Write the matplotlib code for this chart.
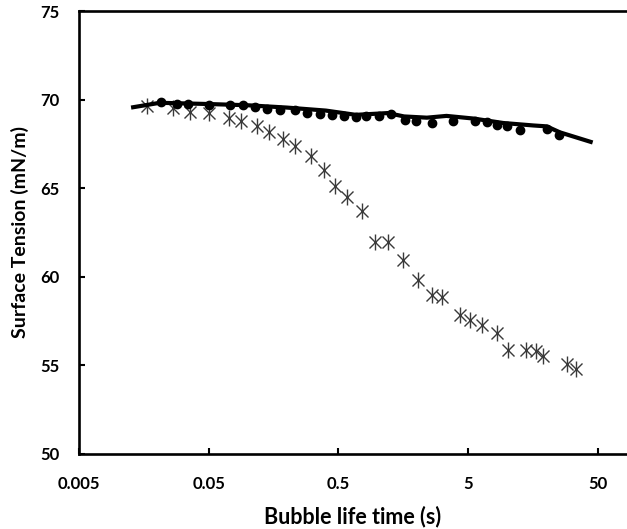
import matplotlib
matplotlib.use("Agg")
import matplotlib.pyplot as plt

# measured surface tension, water-like (filled dots)
dots_t = [0.0213, 0.0286, 0.0348, 0.0502, 0.0729, 0.0914, 0.1136, 0.140, 0.177,
          0.231, 0.284, 0.360, 0.443, 0.551, 0.679, 0.815, 1.026, 1.262, 1.63,
          1.97, 2.64, 3.84, 5.64, 6.94, 8.28, 9.89, 12.53, 20.1, 25.2]
dots_st = [69.89, 69.75, 69.76, 69.67, 69.67, 69.67, 69.58, 69.48, 69.39,
           69.43, 69.27, 69.18, 69.14, 69.10, 68.99, 69.10, 69.05, 69.20, 68.86,
           68.77, 68.68, 68.81, 68.81, 68.71, 68.54, 68.49, 68.30, 68.36, 67.98]

# fitted curve (thick line)
fit_t = [0.0126, 0.021, 0.05, 0.1, 0.2, 0.4, 0.68, 1.2, 1.6, 2.4, 3.4, 5.5,
         9.3, 15.9, 20.1, 25.5, 45.5]
fit_st = [69.55, 69.82, 69.75, 69.68, 69.55, 69.38, 69.14, 69.24, 69.05, 68.98,
          69.08, 68.93, 68.68, 68.54, 68.49, 68.15, 67.58]

# surfactant solution (asterisks)
star_t = [0.0168, 0.0264, 0.0358, 0.0502, 0.0720, 0.0887, 0.117, 0.146, 0.186,
          0.231, 0.305, 0.386, 0.470, 0.578, 0.755, 0.955, 1.21, 1.563, 2.04,
          2.64, 3.15, 4.32, 5.15, 6.35, 8.28, 10.18, 13.87, 16.56, 18.74, 28.7, 33.8]
star_st = [69.65, 69.52, 69.30, 69.24, 68.96, 68.77, 68.49, 68.17, 67.78,
           67.36, 66.80, 66.00, 65.15, 64.51, 63.70, 61.95, 61.95, 60.92, 59.80,
           58.97, 58.86, 57.84, 57.56, 57.26, 56.85, 55.87, 55.87, 55.82, 55.54, 55.07, 54.82]

xticks = [0.005, 0.05, 0.5, 5, 50]
xticklabels = ["0.005", "0.05", "0.5", "5", "50"]
yticks = [50, 55, 60, 65, 70, 75]

plt.rcParams['font.family'] = ['Lato', 'DejaVu Sans']

fig = plt.figure(figsize=(6.27, 5.29), dpi=100)
ax = fig.add_axes([79 / 627, 1 - 454 / 529, 1 - 79 / 627, (454 - 11) / 529])

ax.plot(star_t, star_st, ls='none', marker='x', ms=9, mew=1.0, color='#3a3a3a')
ax.plot(star_t, star_st, ls='none', marker='|', ms=11, mew=1.0, color='#3a3a3a')
ax.plot(dots_t, dots_st, ls='none', marker='o', ms=6, color='black')
ax.plot(fit_t, fit_st, color='black', lw=3, solid_capstyle='butt')

ax.set_xscale('log')
ax.set_xlim(0.005, 83.7)
ax.set_ylim(50, 75)
ax.set_xticks(xticks)
ax.set_xticklabels(xticklabels)
ax.set_yticks(yticks)
ax.minorticks_off()

for s in ['left', 'bottom', 'top']:
    ax.spines[s].set_linewidth(1.9)
ax.spines['right'].set_visible(False)

ax.tick_params(axis='both', direction='in', length=4, width=1.5, labelsize=12)
ax.tick_params(axis='x', pad=16)
ax.tick_params(axis='y', pad=14)
for lab in ax.get_xticklabels() + ax.get_yticklabels():
    lab.set_fontweight('bold')

ax.set_xlabel("Bubble life time (s)", fontsize=15.5, fontweight='bold', labelpad=10)
ax.set_ylabel("Surface Tension (mN/m)", fontsize=14, fontweight='bold', labelpad=8)

fig.savefig("out.png", dpi=100)
